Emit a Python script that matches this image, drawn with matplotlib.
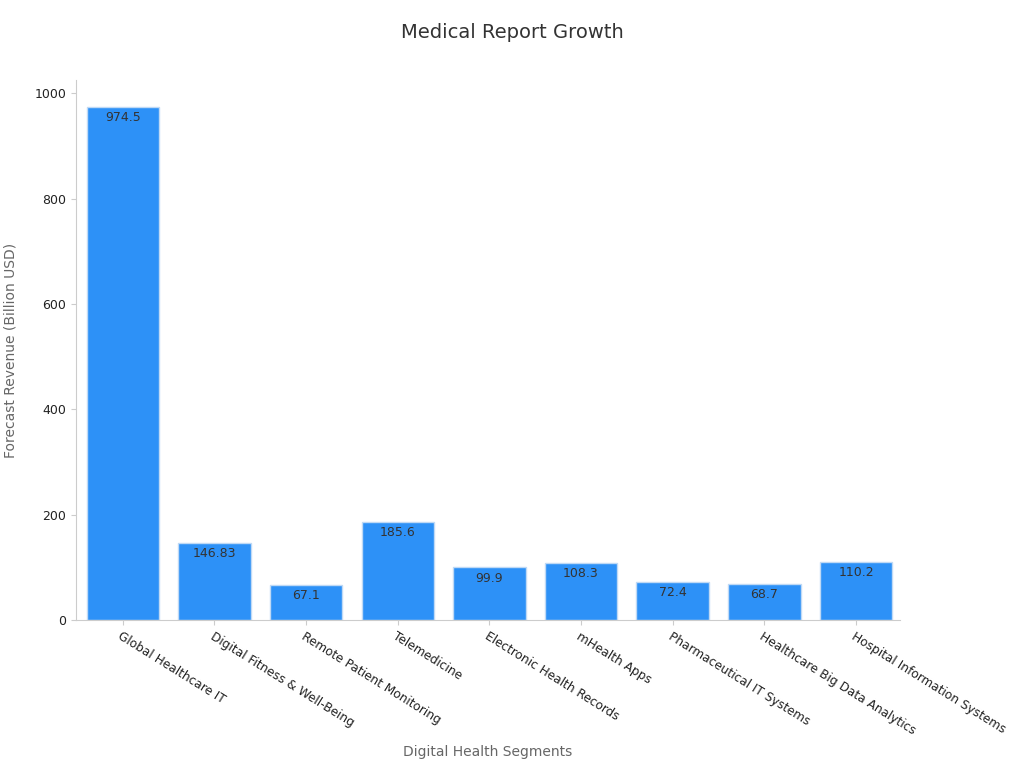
import matplotlib.pyplot as plt

segments = [
    "Global Healthcare IT", "Digital Fitness & Well-Being", "Remote Patient Monitoring",
    "Telemedicine", "Electronic Health Records", "mHealth Apps",
    "Pharmaceutical IT Systems", "Healthcare Big Data Analytics", "Hospital Information Systems",
]
revenue = [974.5, 146.83, 67.1, 185.6, 99.9, 108.3, 72.4, 68.7, 110.2]
value_labels = ["974.5", "146.83", "67.1", "185.6", "99.9", "108.3", "72.4", "68.7", "110.2"]

fig = plt.figure(figsize=(10.24, 7.68), dpi=100)
ax = fig.add_axes([76 / 1024, 1 - 620 / 768, (900 - 76) / 1024, (620 - 80) / 768])

x = range(len(segments))
ax.bar(x, revenue, width=0.79, color="#2D91F7", edgecolor="#BFD9F5", linewidth=1)
for xi, v, lab in zip(x, revenue, value_labels):
    ax.text(xi, v - 8, lab, ha="center", va="top", fontsize=9, color="#333333")

ax.set_xlim(-0.51, 8.48)
ax.set_ylim(0, 1025)
ax.set_yticks([0, 200, 400, 600, 800, 1000])
ax.set_xticks(list(x))
ax.set_xticklabels(segments, rotation=-32, ha="left", rotation_mode="anchor", fontsize=8.7, color="#222222")
ax.tick_params(axis="y", labelsize=9, colors="#222222")
ax.tick_params(axis="both", color="#CCCCCC")
for s in ["top", "right"]:
    ax.spines[s].set_visible(False)
for s in ["left", "bottom"]:
    ax.spines[s].set_color("#CCCCCC")

ax.set_ylabel("Forecast Revenue (Billion USD)", fontsize=10, color="#666666", labelpad=12)
ax.set_xlabel("Digital Health Segments", fontsize=10, color="#666666", labelpad=6)
fig.text(512 / 1024, 1 - 33 / 768, "Medical Report Growth", ha="center", va="center", fontsize=14, color="#333333")

fig.savefig("out.png", dpi=100)
